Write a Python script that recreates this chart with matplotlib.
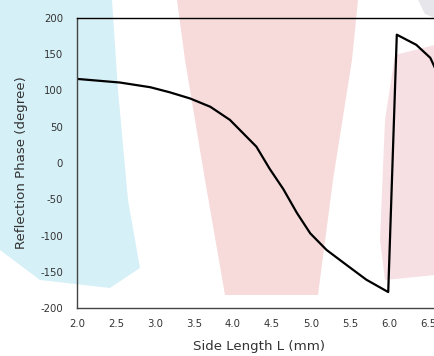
import matplotlib
matplotlib.use("Agg")
import matplotlib.pyplot as plt
from matplotlib.patches import Polygon

plt.rcParams["axes.unicode_minus"] = False

# Data
side_length = [2.0, 2.55, 2.94, 3.19, 3.45, 3.71, 3.96, 4.13, 4.30, 4.47, 4.645, 4.82, 4.99,
               5.20, 5.46, 5.71, 5.99, 6.10, 6.35, 6.44, 6.53, 6.59, 6.65]
phase = [116, 111, 104.5, 97.5, 89, 77.5, 59.5, 41, 22.5, -8, -36, -69, -97,
         -120, -141, -161, -178, 177, 163, 154, 145, 131, 115]

x_ticks = [2.0, 2.5, 3.0, 3.5, 4.0, 4.5, 5.0, 5.5, 6.0, 6.5]
y_ticks = [-200, -150, -100, -50, 0, 50, 100, 150, 200]

W, H = 435, 356
fig = plt.figure(figsize=(W / 100, H / 100), dpi=100)
fig.patch.set_facecolor("white")

def px(pts):
    return [(x / W, 1 - y / H) for x, y in pts]

# faint background shapes
shapes = [
    ([(0, 0), (112, 0), (118, 90), (128, 200), (140, 268), (110, 288), (40, 280), (0, 250)], (0.84, 0.94, 0.97)),
    ([(177, 0), (358, 0), (352, 60), (333, 180), (318, 295), (225, 295), (205, 180), (185, 60)], (0.97, 0.86, 0.86)),
    ([(395, 55), (435, 45), (435, 275), (385, 280), (380, 240), (385, 120)], (0.97, 0.88, 0.89)),
    ([(418, 0), (435, 0), (435, 18), (425, 14)], (0.90, 0.90, 0.92)),
]
for pts, col in shapes:
    fig.patches.append(Polygon(px(pts), closed=True, transform=fig.transFigure,
                               facecolor=col, edgecolor="none", zorder=-10))

x_max = 6.667
left_px, right_px = 77, 77 + 78 * (x_max - 2.0)
top_px, bot_px = 18, 308
ax = fig.add_axes([left_px / W, 1 - bot_px / H, (right_px - left_px) / W, (bot_px - top_px) / H])
ax.set_zorder(5)
ax.set_facecolor("none")
ax.plot(side_length, phase, color="black", lw=1.6, solid_joinstyle="round")
ax.set_xlim(2.0, x_max)
ax.set_ylim(-200, 200)
ax.set_xticks(x_ticks)
ax.set_xticklabels([f"{v:.1f}" for v in x_ticks])
ax.set_yticks(y_ticks)
ax.tick_params(length=0, labelsize=7.3, colors="#333333", pad=10)
ax.tick_params(axis="x", pad=8)
for lab in ax.get_xticklabels() + ax.get_yticklabels():
    lab.set_family("DejaVu Sans")
ax.spines["top"].set_color("black")
ax.spines["left"].set_color("#444444")
ax.spines["bottom"].set_color("#444444")
ax.spines["right"].set_visible(False)
for s in ax.spines.values():
    s.set_linewidth(1.0)

ax.set_xlabel("Side Length L (mm)", fontsize=9.6, family="DejaVu Sans", color="#333333", labelpad=8)
ax.set_ylabel("Reflection Phase (degree)", fontsize=9.6, family="DejaVu Sans", color="#333333", labelpad=9)

fig.savefig("out.png", dpi=100)
